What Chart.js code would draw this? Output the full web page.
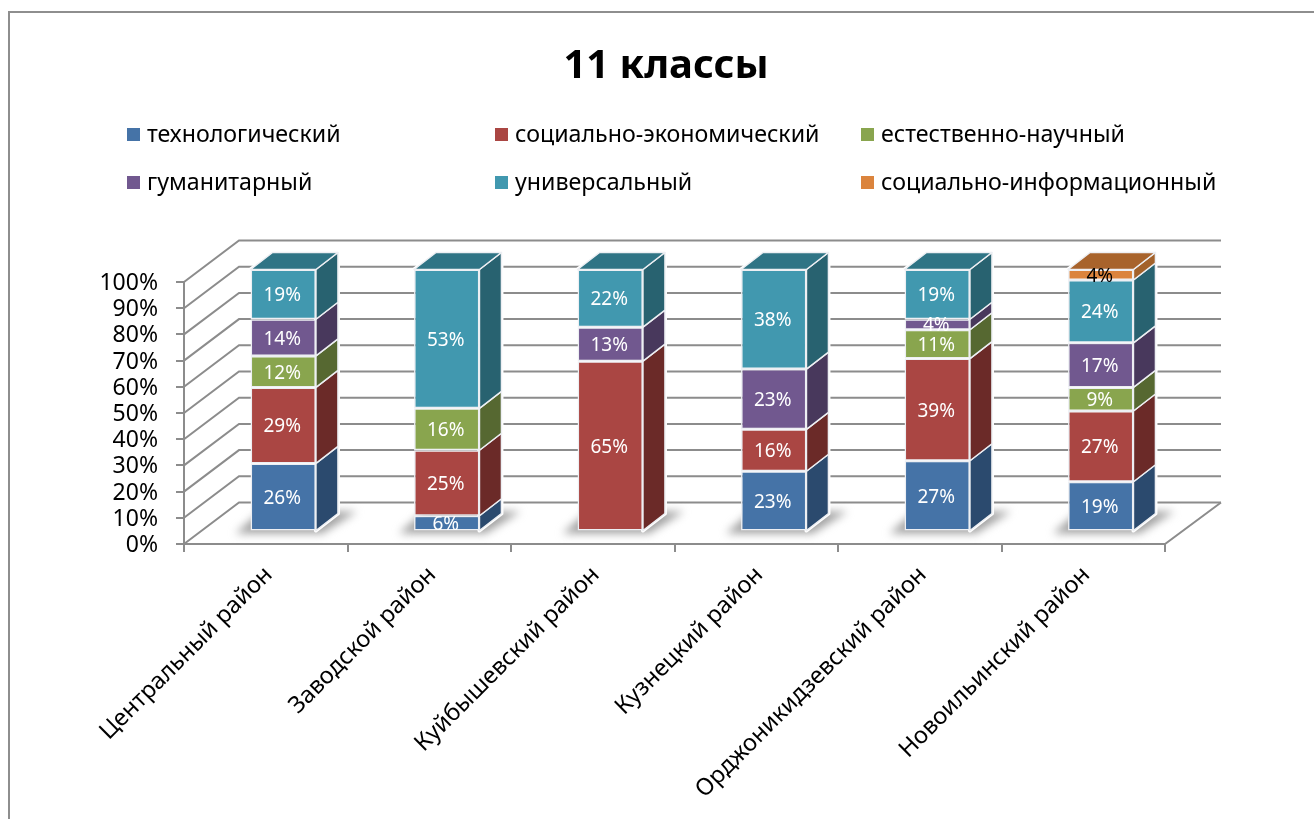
<!DOCTYPE html>
<html><head><meta charset="utf-8">
<style>html,body{margin:0;padding:0;background:#fff}canvas{display:block}</style>
<script src="https://cdn.jsdelivr.net/npm/chart.js@4"></script>
</head><body>
<canvas id="c" width="1314" height="819"></canvas>
<script>
const titleText = '11 классы';
const categories = ['Центральный район','Заводской район','Куйбышевский район','Кузнецкий район','Орджоникидзевский район','Новоильинский район'];
const seriesNames = ['технологический','социально-экономический','естественно-научный','гуманитарный','универсальный','социально-информационный'];
const technological = [26,6,null,23,27,19];
const socioEconomic = [29,25,65,16,39,27];
const naturalScience = [12,16,null,null,11,9];
const humanities = [14,null,13,23,4,17];
const universal = [19,53,22,38,19,24];
const socioInformation = [null,null,null,null,null,4];
const seriesValues = [technological,socioEconomic,naturalScience,humanities,universal,socioInformation];
const frontColors = ['#4573A7','#AA4643','#89A54E','#71588F','#4198AF','#DB843D'];
const sideColors = ['#2B4A6E','#6B2A28','#566831','#48385C','#286270','#A3622B'];
const topColors = ['#345A85','#843634','#6A803C','#584470','#2F7485','#A8632C'];
const labelColors = ['#fff','#fff','#fff','#fff','#fff','#000'];
const FONT = '"Noto Sans"';
const GRID = '#8C8C8C';
const DEPTH = {x:56, y:-41.5};      // full floor depth
const BAR_FRONT = {x:17.5, y:-12.5};  // bar front plane
const BAR_DEPTH = {x:22, y:-17};    // bar own depth

const scene = {
  id:'scene',
  afterLayout(chart){ const t = chart.titleBlock; if(t){ t.left = 0; t.right = 1332; t.top += 2; t.bottom += 2; } },
  beforeDraw(chart){
    const {ctx} = chart;
    ctx.save();
    ctx.strokeStyle = '#8E8E8E'; ctx.lineWidth = 2;
    ctx.beginPath(); ctx.moveTo(9,830); ctx.lineTo(9,12); ctx.lineTo(1325,12); ctx.stroke();
    // legend
    ctx.font = '23.2px '+FONT; ctx.textBaseline='middle'; ctx.textAlign='left';
    const cols=[127,495,861], rows=[134,182];
    seriesNames.forEach((n,i)=>{
      const x=cols[i%3], y=rows[Math.floor(i/3)];
      ctx.fillStyle=frontColors[i]; ctx.fillRect(x,y-6,13,13);
      ctx.fillStyle='#000'; ctx.fillText(n,x+20,y+1);
    });
    ctx.restore();
  },
  beforeDatasetsDraw(chart){
    const {ctx,chartArea:a,scales:{x,y}} = chart;
    ctx.save();
    // walls: one gridline per y tick
    ctx.strokeStyle=GRID; ctx.lineWidth=2;
    y.ticks.forEach(t=>{
      const py=y.getPixelForValue(t.value);
      ctx.beginPath();
      ctx.moveTo(a.left,py); ctx.lineTo(a.left+DEPTH.x-1,py+DEPTH.y); ctx.lineTo(a.right+DEPTH.x,py+DEPTH.y);
      ctx.stroke();
    });
    const b=y.getPixelForValue(0);
    ctx.beginPath(); ctx.moveTo(a.left,b); ctx.lineTo(a.right,b); ctx.lineTo(a.right+DEPTH.x,b+DEPTH.y); ctx.stroke();
    // bars' floor shadows
    const m0=chart.getDatasetMeta(1);
    m0.data.forEach(el=>{
      const w=el.width, l=el.x-w/2+BAR_FRONT.x, r=l+w, by=b+BAR_FRONT.y;
      ctx.save();
      ctx.filter='blur(4px)'; ctx.fillStyle='#a2a2a2';
      ctx.beginPath();
      ctx.moveTo(l-15,by+2); ctx.lineTo(r+6,by+2); ctx.lineTo(r+41,by-20); ctx.lineTo(l+10,by-20); ctx.closePath(); ctx.fill();
      ctx.restore();
    });
    // sides and tops
    chart.data.datasets.forEach((ds,i)=>{
      chart.getDatasetMeta(i).data.forEach((el,j)=>{
        if(ds.data[j]==null) return;
        const w=el.width, l=el.x-w/2+BAR_FRONT.x, r=l+w, t=el.y+BAR_FRONT.y, bt=el.base+BAR_FRONT.y;
        const dx=BAR_DEPTH.x, dy=BAR_DEPTH.y;
        const isTop=!seriesValues.slice(i+1).some(s=>s[j]!=null);
        ctx.lineJoin='round';
        ctx.strokeStyle='#fff'; ctx.lineWidth=4;
        ctx.beginPath(); ctx.moveTo(r,t); ctx.lineTo(r+dx,t+dy); ctx.lineTo(r+dx,bt+dy); ctx.lineTo(r,bt); ctx.closePath(); ctx.stroke();
        if(isTop){ ctx.beginPath(); ctx.moveTo(l,t); ctx.lineTo(l+dx,t+dy); ctx.lineTo(r+dx,t+dy); ctx.lineTo(r,t); ctx.closePath(); ctx.stroke(); }
      });
    });
    chart.data.datasets.forEach((ds,i)=>{
      chart.getDatasetMeta(i).data.forEach((el,j)=>{
        if(ds.data[j]==null) return;
        const w=el.width, l=el.x-w/2+BAR_FRONT.x, r=l+w, t=el.y+BAR_FRONT.y, bt=el.base+BAR_FRONT.y;
        const dx=BAR_DEPTH.x, dy=BAR_DEPTH.y;
        const isTop=!seriesValues.slice(i+1).some(s=>s[j]!=null);
        ctx.strokeStyle='#EDEFF3'; ctx.lineWidth=1.5;
        ctx.fillStyle=sideColors[i];
        ctx.beginPath(); ctx.moveTo(r,t); ctx.lineTo(r+dx,t+dy); ctx.lineTo(r+dx,bt+dy); ctx.lineTo(r,bt); ctx.closePath(); ctx.fill(); ctx.stroke();
        if(isTop){
          ctx.fillStyle=topColors[i];
          ctx.beginPath(); ctx.moveTo(l,t); ctx.lineTo(l+dx,t+dy); ctx.lineTo(r+dx,t+dy); ctx.lineTo(r,t); ctx.closePath(); ctx.fill(); ctx.stroke();
        }
      });
    });
    ctx.restore();
    // front faces are drawn by Chart.js on the bar plane
    ctx.save();
    ctx.translate(BAR_FRONT.x,BAR_FRONT.y);
  },
  afterDatasetsDraw(chart){
    const {ctx} = chart;
    ctx.restore();
    ctx.save();
    ctx.font='19px '+FONT; ctx.textAlign='center'; ctx.textBaseline='middle';
    chart.data.datasets.forEach((ds,i)=>{
      ctx.fillStyle=labelColors[i];
      chart.getDatasetMeta(i).data.forEach((el,j)=>{
        if(ds.data[j]==null) return;
        ctx.fillText(ds.data[j]+'%', el.x+BAR_FRONT.x-1, (el.y+el.base)/2+BAR_FRONT.y+1.5);
      });
    });
    ctx.restore();
  }
};

new Chart(document.getElementById('c'),{
  type:'bar',
  data:{
    labels:categories,
    datasets:seriesNames.map((n,i)=>({
      label:n, data:seriesValues[i], backgroundColor:frontColors[i],
      borderColor:'#EDEFF3', borderWidth:1.5, borderSkipped:false,
      barPercentage:0.8, categoryPercentage:0.5
    }))
  },
  options:{
    responsive:false, animation:false,
    layout:{padding:{left:0,right:149,top:0,bottom:0}},
    plugins:{
      legend:{display:false}, tooltip:{enabled:false},
      title:{display:true,text:titleText,color:'#000',align:'center',
        font:{family:FONT,size:40,weight:'bold',lineHeight:1.2},padding:{top:41,bottom:193}}
    },
    scales:{
      x:{stacked:true,
        afterFit(s){s.height=275;},
        border:{color:GRID,width:2},
        grid:{color:GRID,lineWidth:2,drawOnChartArea:false,tickLength:8,offset:true},
        ticks:{color:'#000',font:{family:FONT,size:23.5},minRotation:45,maxRotation:45,padding:9,labelOffset:3,autoSkip:false}
      },
      y:{stacked:true,min:0,max:100,
        afterFit(s){s.width=184;},
        border:{color:GRID,width:2},
        grid:{color:GRID,lineWidth:2,drawOnChartArea:false,tickLength:8},
        ticks:{color:'#000',font:{family:FONT,size:23},stepSize:10,autoSkip:false,padding:18,labelOffset:1.5,callback:v=>v+'%'}
      }
    }
  },
  plugins:[scene]
});
</script>
</body></html>
